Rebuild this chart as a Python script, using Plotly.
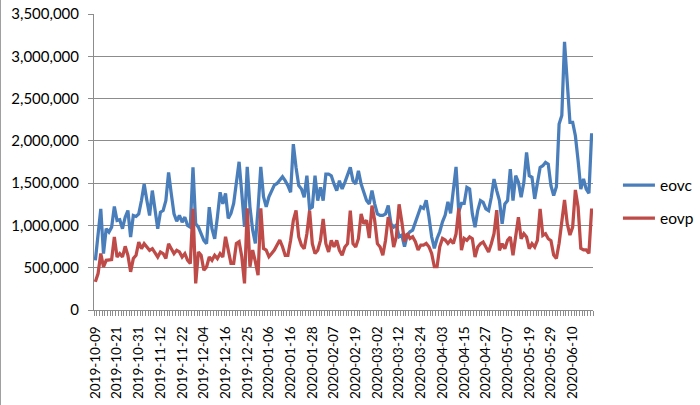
import pandas as pd
import plotly.graph_objects as go

# Category dates (trading days shown on the axis)
dates = [d.strftime("%Y-%m-%d") for d in pd.bdate_range("2019-10-09", "2020-06-19")]
dates.insert(dates.index("2019-12-23"), "2019-12-21")

eovc = [
    588000, 900000, 1196000, 667000, 961000, 922000, 980000, 1224000, 1059000, 1067000,
    961000, 1098000, 1176000, 863000, 1118000, 1106000, 1137000, 1294000, 1490000, 1294000,
    1118000, 1412000, 1176000, 961000, 1157000, 1176000, 1294000, 1627000, 1373000, 1137000,
    1050000,
    1118000, 1039000, 1098000, 1000000, 980000, 1686000, 1020000, 980000, 902000, 824000,
    784000, 1216000, 961000, 843000, 1098000, 1392000, 1255000,
    1378000, 1083000, 1142000, 1260000, 1496000, 1752000, 1378000, 984000, 1693000, 1220000,
    945000, 787000, 1200000, 1693000, 1339000, 1220000, 1339000, 1417000, 1476000, 1496000,
    1535000, 1575000,
    1529000, 1471000, 1392000, 1961000, 1686000, 1471000, 1431000, 1333000, 1588000, 1196000,
    1216000, 1588000, 1294000, 1451000, 1294000, 1608000, 1608000, 1588000, 1490000, 1412000,
    1529000, 1431000, 1510000, 1588000, 1686000, 1529000, 1490000, 1647000, 1490000, 1392000,
    1294000, 1255000,
    1412000, 1255000, 1137000, 1118000, 1118000, 1137000, 1235000, 1020000, 980000,
    1004000, 866000, 886000, 748000, 886000, 925000, 945000, 1043000, 1122000, 1220000,
    1201000, 1299000, 1102000, 866000, 728000, 846000, 925000, 1043000, 1122000, 1280000,
    1142000, 1417000, 1693000, 1161000, 1260000, 1260000,
    1451000, 1431000, 1137000, 980000, 1176000, 1294000, 1274000, 1196000, 1176000, 1333000,
    1549000, 1412000, 1294000, 1020000, 1255000, 1294000, 1667000, 1294000, 1588000, 1510000,
    1333000, 1510000, 1863000, 1588000, 1569000, 1314000, 1490000, 1686000, 1706000, 1745000,
    1725000, 1471000, 1353000,
    1457000, 2200000, 2300000, 3170000, 2700000, 2220000, 2220000, 2060000, 1770000, 1430000,
    1550000, 1430000, 1380000, 2090000,
]

eovp = [
    333000, 431000, 667000, 510000, 588000, 588000, 596000, 863000, 627000, 667000,
    627000, 753000, 647000, 451000, 608000, 647000, 804000, 725000, 784000, 745000,
    706000, 725000, 667000, 627000, 686000, 667000, 608000, 784000, 725000, 667000,
    706000,
    686000, 627000, 667000, 588000, 549000, 1196000, 314000, 686000, 647000, 471000,
    510000, 627000, 588000, 647000, 608000, 667000, 627000,
    866000, 709000, 551000, 551000, 787000, 807000, 630000, 315000, 1201000, 512000,
    709000, 571000, 413000, 1201000, 728000, 709000, 630000, 669000, 709000, 768000,
    827000, 748000,
    647000, 647000, 824000, 1059000, 1176000, 863000, 765000, 725000, 902000, 1176000,
    784000, 667000, 706000, 824000, 1078000, 784000, 686000, 824000, 745000, 824000,
    706000, 647000, 745000, 784000, 1176000, 784000, 745000, 843000, 1137000, 1020000,
    1060000, 850000,
    1235000, 1059000, 784000, 745000, 647000, 824000, 1098000, 980000, 745000,
    866000, 1250000, 1043000, 807000, 906000, 846000, 866000, 807000, 709000, 768000,
    768000, 787000, 748000, 669000, 512000, 512000, 748000, 846000, 827000, 787000,
    827000, 787000, 900000, 1201000, 709000, 846000,
    824000, 863000, 843000, 627000, 745000, 784000, 804000, 745000, 686000, 784000,
    902000, 1180000, 706000, 784000, 725000, 824000, 863000, 647000, 863000, 1098000,
    843000, 902000, 863000, 725000, 784000, 745000, 824000, 1196000, 882000, 902000,
    843000, 820000, 650000,
    610000, 790000, 1020000, 1300000, 1020000, 886000, 980000, 1420000, 1220000, 730000,
    710000, 710000, 670000, 1200000,
]

y_ticks = [0, 500000, 1000000, 1500000, 2000000, 2500000, 3000000, 3500000]

n = len(dates)
assert n == len(eovc) == len(eovp)
xs = list(range(n))
label_idx = xs[::8]

FONT = "Lato"
GRID = "#8c8c8c"

fig = go.Figure()
fig.add_trace(go.Scatter(x=xs, y=eovc, name="eovc", mode="lines", legendgroup="a",
                         line=dict(color="#4A7EBB", width=3.25)))
fig.add_trace(go.Scatter(x=xs, y=eovp, name="eovp", mode="lines", legendgroup="b",
                         line=dict(color="#BE4B48", width=3.25)))

fig.update_layout(
    width=700, height=405,
    margin=dict(l=94, r=107, t=14, b=95, autoexpand=False),
    paper_bgcolor="white", plot_bgcolor="white",
    font=dict(family=FONT, size=15, color="#000000"),
    showlegend=True,
    legend=dict(x=1.05, xanchor="left", y=0.365, yanchor="middle",
                font=dict(family=FONT, size=15.5, color="#000000"),
                itemwidth=32,
                tracegroupgap=10, bgcolor="rgba(0,0,0,0)"),
    xaxis=dict(
        range=[-0.5, n - 0.5], automargin=False,
        tickmode="array", tickvals=label_idx, ticktext=[dates[i] for i in label_idx],
        tickangle=-90, ticks="", showgrid=False, zeroline=False,
        showline=True, linecolor=GRID, linewidth=1,
        tickfont=dict(family=FONT, size=13.5),
        ticklabelstandoff=10,
        minor=dict(ticks="outside", ticklen=5, tickcolor=GRID, tick0=-0.5, dtick=1, showgrid=False),
    ),
    yaxis=dict(
        range=[0, 3500000], tickmode="array", tickvals=y_ticks, automargin=False,
        ticktext=[f"{v:,}" for v in y_ticks],
        showgrid=True, gridcolor=GRID, gridwidth=1, zeroline=False,
        showline=True, linecolor=GRID, linewidth=1,
        ticks="outside", ticklen=5, tickcolor=GRID,
        tickfont=dict(family=FONT, size=15),
        ticklabelstandoff=6,
    ),
    shapes=[dict(type="line", xref="paper", yref="paper",
                 x0=(0.5 - 94) / 499, x1=(0.5 - 94) / 499, y0=-95 / 296, y1=310 / 296,
                 line=dict(color="#a0a0a0", width=1))],
)

fig.write_html("out.html")
